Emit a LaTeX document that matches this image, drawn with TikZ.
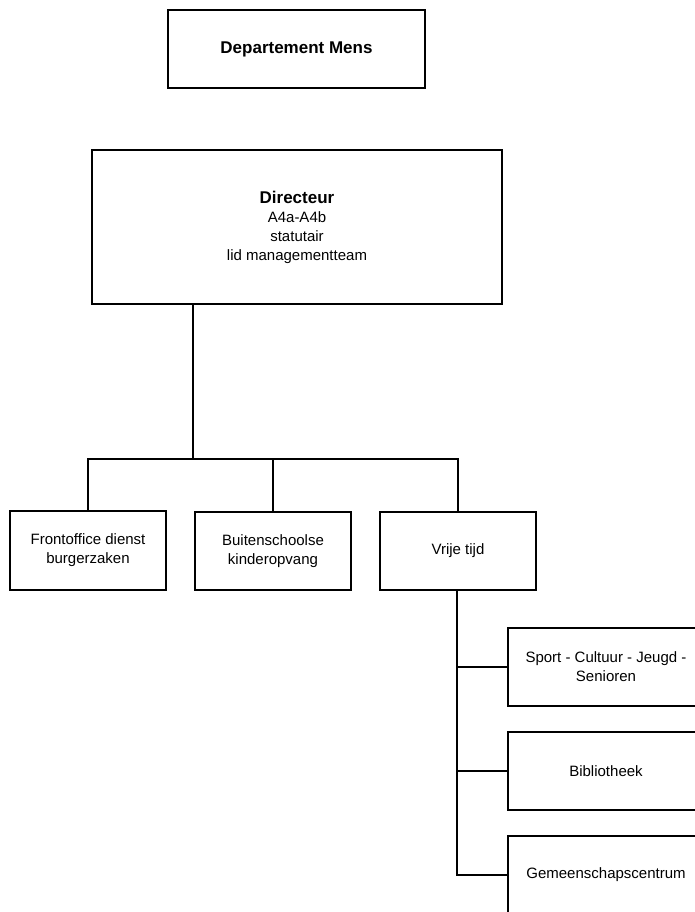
\documentclass[tikz,border=0pt]{standalone}
\usepackage{fontspec}
\setmainfont{Liberation Sans}
\begin{document}
\begin{tikzpicture}[x=1pt,y=-1pt,
  box/.style={draw=black, line width=1.3pt, inner sep=0pt, align=center,
    font=\fontsize{15}{19}\selectfont},
  link/.style={draw=black, line width=1.3pt}]
\useasboundingbox (0,0) rectangle (694,912);
\fill[white] (0,0) rectangle (694,912);
% top level
\node[box, minimum width=257pt, minimum height=78pt,
  font=\fontsize{17}{20}\selectfont\bfseries] (dept) at (296.5,49) {Departement Mens};
\node[box, minimum width=410pt, minimum height=154pt] (dir) at (297,227)
  {{\fontsize{17}{20}\selectfont\bfseries Directeur}\\A4a-A4b\\statutair\\lid managementteam};
% second level
\node[box, minimum width=156pt, minimum height=79pt] (front) at (88,550.5)
  {Frontoffice dienst\\burgerzaken};
\node[box, minimum width=156pt, minimum height=78pt] (buiten) at (273,551)
  {Buitenschoolse\\kinderopvang};
\node[box, minimum width=156pt, minimum height=78pt] (vrije) at (458,551)
  {Vrije tijd};
% third level
\node[box, minimum width=196pt, minimum height=78pt] (sport) at (606,667)
  {Sport - Cultuur - Jeugd -\\Senioren};
\node[box, minimum width=196pt, minimum height=78pt] (bib) at (606,771)
  {Bibliotheek};
\node[box, minimum width=196pt, minimum height=78pt] (gem) at (606,875)
  {Gemeenschapscentrum};
% connectors
\coordinate (bus) at (193,459);
\coordinate (trunk) at (457,590);
\draw[link] (dir.south -| bus) -- (bus);
\draw[link] (front.north) -- (front.north |- bus) -- (vrije.north |- bus) -- (vrije.north);
\draw[link] (buiten.north) -- (buiten.north |- bus);
\draw[link] (trunk) |- (gem.west);
\draw[link] (trunk |- sport.west) -- (sport.west);
\draw[link] (trunk |- bib.west) -- (bib.west);
\end{tikzpicture}
\end{document}
